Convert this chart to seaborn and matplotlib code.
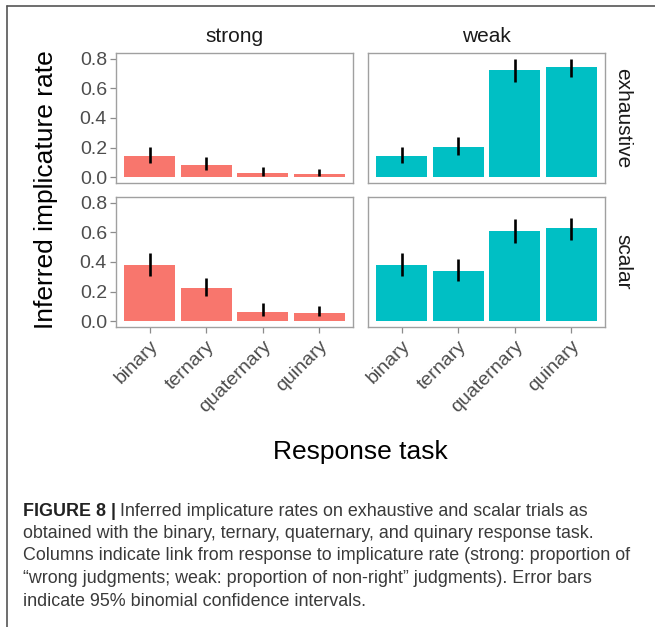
import numpy as np
import pandas as pd
import seaborn as sns
import matplotlib.pyplot as plt
from matplotlib.lines import Line2D

# response tasks on the x axis
tasks = ["binary", "ternary", "quaternary", "quinary"]

# strong link, exhaustive trials
strong_exh = [0.14, 0.083, 0.025, 0.018]
strong_exh_lo = [0.095, 0.05, 0.008, 0.008]
strong_exh_hi = [0.205, 0.138, 0.068, 0.058]

# weak link, exhaustive trials
weak_exh = [0.14, 0.203, 0.727, 0.746]
weak_exh_lo = [0.095, 0.15, 0.646, 0.676]
weak_exh_hi = [0.205, 0.273, 0.797, 0.80]

# strong link, scalar trials
strong_sca = [0.379, 0.227, 0.061, 0.054]
strong_sca_lo = [0.306, 0.17, 0.034, 0.034]
strong_sca_hi = [0.46, 0.295, 0.12, 0.10]

# weak link, scalar trials
weak_sca = [0.379, 0.34, 0.61, 0.628]
weak_sca_lo = [0.306, 0.27, 0.53, 0.55]
weak_sca_hi = [0.46, 0.42, 0.69, 0.70]

colors = {"strong": "#F8766D", "weak": "#00BFC4"}

panels = {
    ("exhaustive", "strong"): (strong_exh, strong_exh_lo, strong_exh_hi),
    ("exhaustive", "weak"): (weak_exh, weak_exh_lo, weak_exh_hi),
    ("scalar", "strong"): (strong_sca, strong_sca_lo, strong_sca_hi),
    ("scalar", "weak"): (weak_sca, weak_sca_lo, weak_sca_hi),
}

sns.set_theme(style="white")
plt.rcParams["font.family"] = ["Liberation Sans", "DejaVu Sans"]

fig = plt.figure(figsize=(6.55, 6.27), dpi=100)

W, H = 655, 627
lefts = {"strong": 116, "weak": 368}
tops = {"exhaustive": 53, "scalar": 197}
pw, ph = 237, 130

tick_grey = "#4D4D4D"
tick_size = 14

for (trial, link), (vals, lo, hi) in panels.items():
    ax = fig.add_axes([lefts[link] / W, 1 - (tops[trial] + ph) / H, pw / W, ph / H])
    df = pd.DataFrame({"task": tasks, "rate": vals})
    sns.barplot(data=df, x="task", y="rate", order=tasks, color=colors[link],
                saturation=1, width=0.9, errorbar=None, linewidth=0, ax=ax)
    ax.vlines(np.arange(len(tasks)), lo, hi, color="black", linewidth=1.9)
    ax.set_xlim(-0.6, 3.6)
    ax.set_ylim(-0.04, 0.84)
    ax.set_xlabel("")
    ax.set_ylabel("")
    for sp in ax.spines.values():
        sp.set_color("#A0A0A0")
        sp.set_linewidth(1.0)
    ax.set_yticks([0.0, 0.2, 0.4, 0.6, 0.8])
    if link == "strong":
        ax.set_yticklabels(["0.0", "0.2", "0.4", "0.6", "0.8"])
        ax.tick_params(axis="y", left=True, length=4.5, width=0.9, color="#8C8C8C",
                       labelsize=tick_size, labelcolor=tick_grey, pad=2)
    else:
        ax.tick_params(axis="y", left=False, labelleft=False)
    if trial == "scalar":
        ax.set_xticks(np.arange(len(tasks)))
        ax.set_xticklabels(tasks, rotation=45, ha="right", rotation_mode="anchor")
        ax.tick_params(axis="x", bottom=True, length=4.5, width=0.9, color="#8C8C8C",
                       labelsize=tick_size, labelcolor=tick_grey, pad=3)
    else:
        ax.tick_params(axis="x", bottom=False, labelbottom=False)
    if trial == "exhaustive":
        ax.set_title(link, fontsize=15, color="#1A1A1A", pad=8)
    if link == "weak":
        ax.text(1.076, 0.5, trial, transform=ax.transAxes, rotation=-90,
                ha="center", va="center", fontsize=15, color="#1A1A1A")

fig.text(46 / W, 1 - 190 / H, "Inferred implicature rate", rotation=90,
         ha="center", va="center", fontsize=19, color="black")
fig.text(360 / W, 1 - 452 / H, "Response task", ha="center", va="center",
         fontsize=19, color="black")

# frame lines of the figure panel
fig.add_artist(Line2D([7 / W, 1], [1 - 6 / H, 1 - 6 / H], color="#555555", linewidth=1.2))
fig.add_artist(Line2D([7 / W, 7 / W], [0, 1 - 6 / H], color="#555555", linewidth=1.2))

# caption
cap_col = "#3A3A3A"
cap_size = 12.9
cap_y0, cap_dy = 511, 22.5
renderer = fig.canvas.get_renderer()
bold = fig.text(23 / W, 1 - cap_y0 / H, "FIGURE 8 |", ha="left", va="center",
                fontsize=cap_size, fontweight="bold", color="#222222")
bb = bold.get_window_extent(renderer=renderer)
fig.text(bb.x1 / fig.bbox.width + 4 / W, 1 - cap_y0 / H,
         "Inferred implicature rates on exhaustive and scalar trials as",
         ha="left", va="center", fontsize=cap_size, color=cap_col)
cap_lines = [
    "obtained with the binary, ternary, quaternary, and quinary response task.",
    "Columns indicate link from response to implicature rate (strong: proportion of",
    "\u201cwrong judgments; weak: proportion of non-right\u201d judgments). Error bars",
    "indicate 95% binomial confidence intervals.",
]
for i, line in enumerate(cap_lines):
    fig.text(23 / W, 1 - (cap_y0 + cap_dy * (i + 1)) / H, line, ha="left", va="center",
             fontsize=cap_size, color=cap_col)

fig.savefig("out.png", dpi=100)
